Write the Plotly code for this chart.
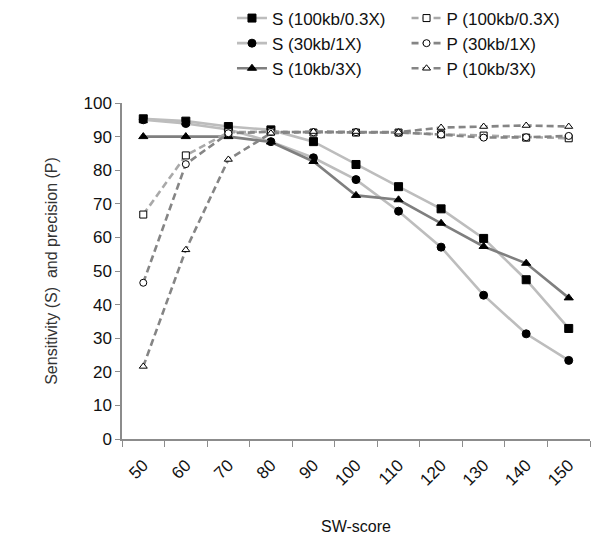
import plotly.graph_objects as go

categories = ["50", "60", "70", "80", "90", "100", "110", "120", "130", "140", "150"]

s_100kb = [95.3, 94.6, 93.0, 92.0, 88.5, 81.7, 75.1, 68.5, 59.7, 47.4, 32.9]
s_30kb = [95.0, 93.9, 92.1, 88.5, 83.7, 77.2, 67.8, 57.1, 42.8, 31.3, 23.4]
s_10kb = [90.0, 90.0, 90.0, 88.4, 82.6, 72.5, 71.2, 64.2, 57.3, 52.3, 42.0]
p_100kb = [66.8, 84.4, 91.3, 91.5, 91.2, 91.2, 91.2, 90.7, 90.3, 89.7, 89.5]
p_30kb = [46.5, 81.8, 91.0, 91.4, 91.3, 91.3, 91.2, 90.6, 89.7, 89.8, 90.2]
p_10kb = [21.6, 56.3, 83.2, 91.0, 91.5, 91.5, 91.3, 92.7, 93.0, 93.3, 93.0]

series = [
    ("S (100kb/0.3X)", s_100kb, "#bdbdbd", "solid", "square", "black", "legend"),
    ("S (30kb/1X)", s_30kb, "#bdbdbd", "solid", "circle", "black", "legend"),
    ("S (10kb/3X)", s_10kb, "#7f7f7f", "solid", "triangle-up", "black", "legend"),
    ("P (100kb/0.3X)", p_100kb, "#a9a9a9", "7px,4px", "square", "white", "legend2"),
    ("P (30kb/1X)", p_30kb, "#858585", "7px,4px", "circle", "white", "legend2"),
    ("P (10kb/3X)", p_10kb, "#858585", "7px,4px", "triangle-up", "white", "legend2"),
]

fig = go.Figure()
for name, vals, color, dash, sym, fill, lg in series:
    fig.add_trace(go.Scatter(
        x=categories, y=vals, name=name, mode="lines+markers",
        line=dict(color=color, width=2.6, dash=dash),
        marker=dict(symbol=sym, size=8 if fill == "black" else 7, color=fill,
                    line=dict(color="black", width=1)),
        legend=lg,
    ))

font = "Liberation Sans, Arial, sans-serif"
fig.update_layout(
    width=600, height=552,
    margin=dict(l=122, r=10, t=103, b=113, autoexpand=False),
    plot_bgcolor="white", paper_bgcolor="white",
    font=dict(family=font, size=17, color="#111"),
    legend=dict(x=0.235, y=1.305, xanchor="left", yanchor="top", bgcolor="rgba(0,0,0,0)",
                font=dict(size=17), tracegroupgap=0, itemwidth=30),
    legend2=dict(x=0.608, y=1.305, xanchor="left", yanchor="top", bgcolor="rgba(0,0,0,0)",
                 font=dict(size=17), tracegroupgap=0, itemwidth=30),
    xaxis=dict(
        type="category", range=[-0.5, 10.5], showgrid=False,
        showline=True, linecolor="#8c8c8c", linewidth=1.5,
        ticks="outside", tickson="boundaries", ticklen=6, tickcolor="#8c8c8c",
        tickangle=-45, tickfont=dict(size=17), ticklabelstandoff=8,
        title=dict(text="SW-score", font=dict(size=16), standoff=32),
    ),
    yaxis=dict(
        range=[0, 100], dtick=10, showgrid=False, zeroline=False,
        showline=True, linecolor="#8c8c8c", linewidth=1.5,
        ticks="outside", ticklen=5, tickcolor="#8c8c8c",
        tickfont=dict(size=17),
        title=dict(text="Sensitivity (S)  and precision (P)", font=dict(size=16, color="#333"), standoff=22),
    ),
)

fig.write_html("out.html", config={"displayModeBar": False},
               post_script="document.body.style.margin='0';")
